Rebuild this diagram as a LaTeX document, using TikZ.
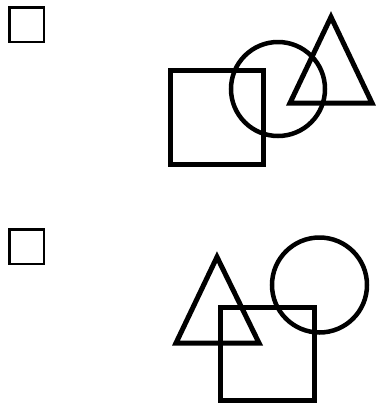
\documentclass[tikz,border=0pt]{standalone}
\begin{document}
\begin{tikzpicture}[x=1pt,y=-1pt,
  box/.style={draw=black,line width=2.6pt},
  shapeline/.style={draw=black,line width=5pt,line join=miter},
  ringline/.style={draw=black,line width=4.5pt}]
\useasboundingbox (0,0) rectangle (380,405);
% checkboxes
\draw[box] (9.5,7.5) rectangle (44,42);
\draw[box] (9.5,229.5) rectangle (44,264);
% top group
\draw[shapeline] (170,70.5) rectangle (263.5,164.5);
\draw[ringline] (278,89) circle[radius=47];
\draw[shapeline] (331,17) -- (372,103) -- (290,103) -- cycle;
% bottom group
\draw[shapeline] (176,343) -- (217,257) -- (259,343) -- cycle;
\draw[shapeline] (220.5,307.5) rectangle (314.5,400.5);
\draw[ringline] (319.5,285) circle[radius=47.5];
\end{tikzpicture}
\end{document}
